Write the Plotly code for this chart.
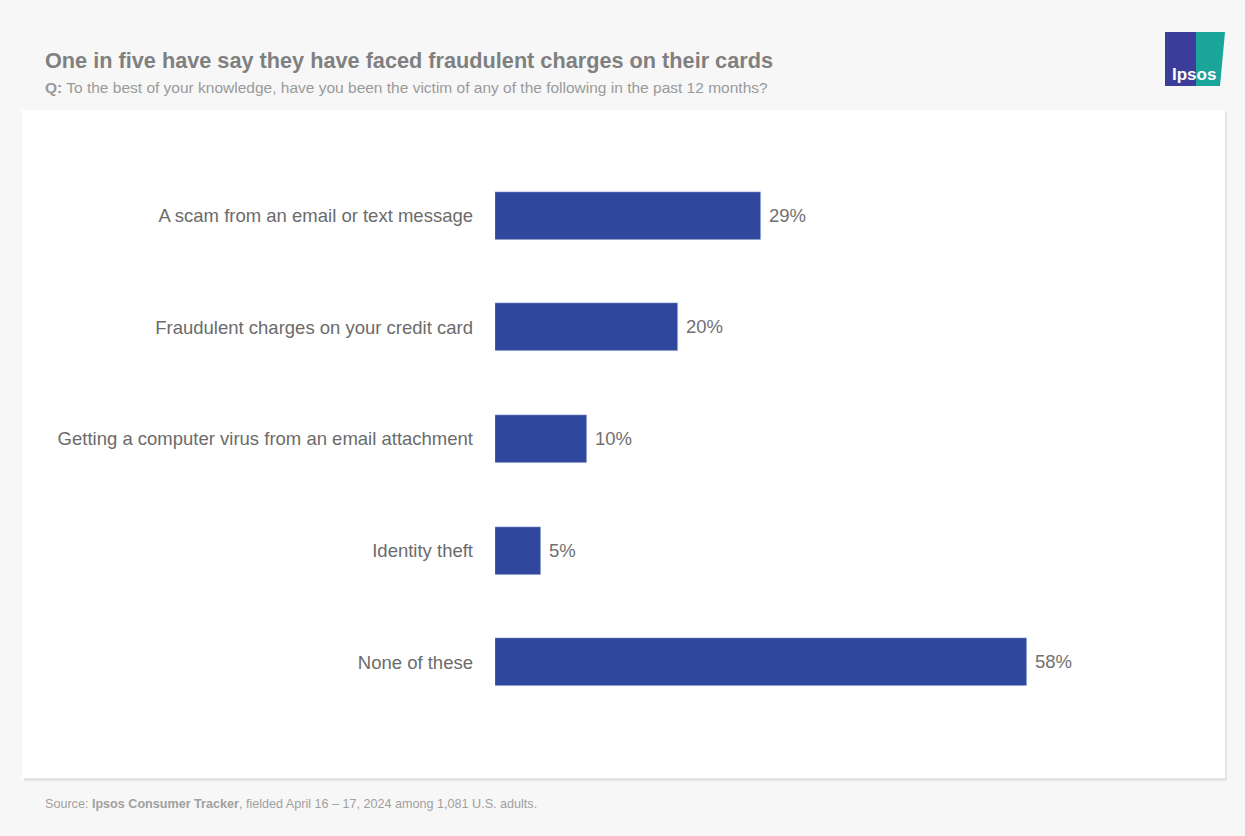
import plotly.graph_objects as go

categories = ["A scam from an email or text message", "Fraudulent charges on your credit card",
              "Getting a computer virus from an email attachment", "Identity theft", "None of these"]
values = [29, 20, 10, 5, 58]
labels = [f" {v}%" for v in values]

W, H = 1245, 836
L, R, T, B = 495, 1082, 160, 718
def px(x): return (x - L) / (R - L)
def py(y): return (B - y) / (B - T)

fig = go.Figure(go.Bar(
    y=categories, x=values, orientation="h", width=0.43,
    marker_color="#2f479d", text=labels, textposition="outside", cliponaxis=False,
    textfont=dict(size=18.5, color="#707070", family="Liberation Sans"),
))
fig.update_yaxes(autorange="reversed", showgrid=False, zeroline=False, showline=False,
                 ticks="", ticklabelstandoff=21, tickfont=dict(size=18.5, color="#6b6b6b", family="Liberation Sans"))
fig.update_xaxes(range=[0, 64], visible=False)

shapes = [
    dict(type="rect", xref="paper", yref="paper", x0=px(24), x1=px(1227), y0=py(112), y1=py(781),
         fillcolor="#e4e4e4", line_width=0, layer="below"),
    dict(type="rect", xref="paper", yref="paper", x0=px(22), x1=px(1225), y0=py(110), y1=py(778),
         fillcolor="white", line_width=0, layer="below"),
    dict(type="rect", xref="paper", yref="paper", x0=px(1165), x1=px(1196), y0=py(32), y1=py(86),
         fillcolor="#3c3c9a", line_width=0),
    dict(type="path", xref="paper", yref="paper",
         path=f"M {px(1196)},{py(32)} L {px(1225)},{py(32)} L {px(1220)},{py(86)} L {px(1196)},{py(86)} Z",
         fillcolor="#1aa59a", line_width=0),
]
ann = [
    dict(text="<b>One in five have say they have faced fraudulent charges on their cards</b>", x=px(43), y=py(60),
         xanchor="left", yanchor="middle", font=dict(size=21.7, color="#808080")),
    dict(text="<b>Q:</b> To the best of your knowledge, have you been the victim of any of the following in the past 12 months?",
         x=px(43), y=py(87), xanchor="left", yanchor="middle", font=dict(size=15.5, color="#9a9a9a")),
    dict(text="Source: <b>Ipsos Consumer Tracker</b>, fielded April 16 – 17, 2024 among 1,081 U.S. adults.",
         x=px(43), y=py(804), xanchor="left", yanchor="middle", font=dict(size=12.6, color="#a0a0a0")),
    dict(text="<b>Ipsos</b>", x=px(1194), y=py(74), xanchor="center", yanchor="middle",
         font=dict(size=17, color="white")),
]
for a in ann:
    a.update(xref="paper", yref="paper", showarrow=False)
    a["font"]["family"] = "Liberation Sans"

fig.update_layout(width=W, height=H, margin=dict(l=L, r=W - R, t=T, b=H - B, autoexpand=False),
                  paper_bgcolor="#f7f7f7", plot_bgcolor="white", showlegend=False,
                  shapes=shapes, annotations=ann, bargap=0)
fig.write_html("out.html", config={"displayModeBar": False},
               post_script="document.body.style.margin='0';document.body.style.background='#f7f7f7';")
